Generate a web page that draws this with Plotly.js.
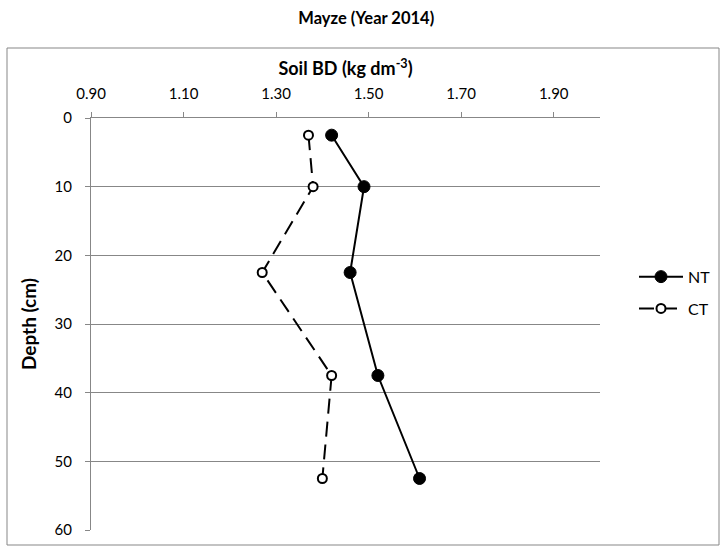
<!DOCTYPE html>
<html>
<head>
<meta charset="utf-8">
<script src="https://cdn.plot.ly/plotly-3.0.1.min.js"></script>
<style>
  html, body { margin: 0; padding: 0; background: #fff; }
  #chart { width: 721px; height: 546px; }
</style>
</head>
<body>
<div id="chart"></div>
<script>
// Sampling depths (cm), mid-points of each soil layer
const depth = [2.5, 10, 22.5, 37.5, 52.5];

// Soil bulk density (kg dm-3) under each tillage system
const bdNT = [1.42, 1.49, 1.46, 1.52, 1.61];
const bdCT = [1.37, 1.38, 1.27, 1.42, 1.40];

// Axis ticks
const bdTicks = [0.90, 1.10, 1.30, 1.50, 1.70, 1.90];
const depthTicks = [0, 10, 20, 30, 40, 50, 60];

const FONT = 'Lato, "Open Sans", sans-serif';
const GRID = '#878787';

const traces = [
  {
    x: bdNT, y: depth, name: 'NT', legendgroup: 'nt',
    type: 'scatter', mode: 'lines+markers',
    line: { color: '#000', width: 2 },
    marker: { symbol: 'circle', size: 12, color: '#000', line: { color: '#000', width: 1 } }
  },
  {
    x: bdCT, y: depth, name: 'CT', legendgroup: 'ct',
    type: 'scatter', mode: 'lines+markers',
    line: { color: '#000', width: 2, dash: '15px,8px' },
    marker: { symbol: 'circle', size: 9, color: '#fff', line: { color: '#000', width: 2 } }
  }
];

const layout = {
  width: 721, height: 546,
  margin: { l: 91, r: 121, t: 118, b: 16 },
  paper_bgcolor: '#fff', plot_bgcolor: '#fff',
  font: { family: FONT, size: 15, color: '#000' },
  title: {
    text: '<b>Mayze (Year 2014)</b>',
    font: { family: FONT, size: 16.5, color: '#000' },
    x: 0.508, xref: 'container', xanchor: 'center',
    y: 1 - 18 / 546, yref: 'container', yanchor: 'middle'
  },
  xaxis: {
    side: 'top',
    range: [0.9, 2.0],
    tickvals: bdTicks,
    ticktext: bdTicks.map(v => v.toFixed(2)),
    ticks: 'outside', ticklen: 5, tickcolor: GRID, tickwidth: 1,
    ticklabelstandoff: 7,
    showline: true, linecolor: GRID, linewidth: 1,
    showgrid: false, zeroline: false,
    tickfont: { family: FONT, size: 15, color: '#000' },
    title: {
      text: '<b>Soil BD (kg dm<sup>-3</sup>)</b>',
      font: { family: FONT, size: 18, color: '#000' },
      standoff: 3
    }
  },
  yaxis: {
    range: [60, 0],
    tickvals: depthTicks,
    ticks: 'outside', ticklen: 5, tickcolor: GRID, tickwidth: 1,
    ticklabelstandoff: 10,
    showline: true, linecolor: GRID, linewidth: 1,
    showgrid: true, gridcolor: GRID, gridwidth: 1,
    zeroline: false,
    tickfont: { family: FONT, size: 15, color: '#000' },
    title: {
      text: '<b>Depth (cm)</b>',
      font: { family: FONT, size: 19, color: '#000' },
      standoff: 12
    }
  },
  showlegend: true,
  legend: {
    xref: 'container', x: 634 / 721, xanchor: 'left',
    y: 0.656, yanchor: 'top',
    traceorder: 'grouped', tracegroupgap: 8,
    itemwidth: 44,
    bgcolor: 'rgba(0,0,0,0)',
    font: { family: FONT, size: 16, color: '#000' }
  },
  shapes: [
    {
      type: 'rect', xref: 'paper', yref: 'paper',
      x0: (7 - 91) / 509, x1: (719 - 91) / 509,
      y0: (530 - 545) / 412, y1: (530 - 48) / 412,
      line: { color: GRID, width: 1 }, fillcolor: 'rgba(0,0,0,0)',
      layer: 'below'
    }
  ]
};

Plotly.newPlot('chart', traces, layout, { displayModeBar: false, staticPlot: true });
</script>
</body>
</html>
